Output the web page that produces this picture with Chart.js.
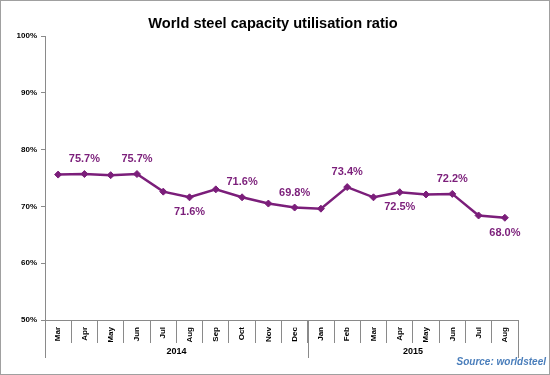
<!DOCTYPE html>
<html>
<head>
<meta charset="utf-8">
<script src="https://cdn.jsdelivr.net/npm/chart.js@4.4.0/dist/chart.umd.min.js"></script>
<style>
  html, body { margin: 0; padding: 0; background: #fff; }
</style>
</head>
<body>
<canvas id="chart" width="550" height="375"></canvas>
<script>
// data
const months = ["Mar", "Apr", "May", "Jun", "Jul", "Aug", "Sep", "Oct", "Nov", "Dec",
                "Jan", "Feb", "Mar", "Apr", "May", "Jun", "Jul", "Aug"];
const years = ["2014", "2015"];
const monthsPerYear = [10, 8];
const ratio = [75.6, 75.7, 75.5, 75.7, 72.6, 71.6, 73.0, 71.6, 70.5, 69.8,
               69.6, 73.4, 71.6, 72.5, 72.1, 72.2, 68.4, 68.0];
// which points carry a value label, and whether it sits under the point
const labelledIdx = [1, 3, 5, 7, 9, 11, 13, 15, 17];
const labelBelow = [false, false, true, false, false, false, true, false, true];

const chartTitle = "World steel capacity utilisation ratio";
const sourceNote = "Source: worldsteel";

const purple = "#7b1e7a";
const axisGrey = "#8a8a8a";

// value labels, year row, title, source and frame
const decor = {
  id: "decor",
  afterDraw(chart) {
    const ctx = chart.ctx;
    const xs = chart.scales.x;
    const area = chart.chartArea;
    const meta = chart.getDatasetMeta(0);
    ctx.save();

    ctx.font = "bold 11px Arial";
    ctx.fillStyle = purple;
    ctx.textAlign = "center";
    ctx.textBaseline = "middle";
    labelledIdx.forEach((i, k) => {
      const p = meta.data[i];
      const dy = labelBelow[k] ? 15 : -15;
      ctx.fillText(ratio[i].toFixed(1) + "%", p.x, p.y + dy);
    });

    // year grouping under the month labels
    const half = (xs.getPixelForValue(1) - xs.getPixelForValue(0)) / 2;
    const yEnd = area.bottom + 38;
    ctx.strokeStyle = axisGrey;
    ctx.lineWidth = 1;
    ctx.beginPath();
    const lx = Math.round(area.left) + 0.5;
    ctx.moveTo(lx, area.bottom);
    ctx.lineTo(lx, yEnd);
    ctx.font = "bold 9px Arial";
    ctx.fillStyle = "#000";
    let start = 0;
    years.forEach((yr, k) => {
      const end = start + monthsPerYear[k] - 1;
      const x0 = xs.getPixelForValue(start) - half;
      const x1 = xs.getPixelForValue(end) + half;
      const bx = Math.round(x1) + 0.5;
      ctx.moveTo(bx, area.bottom);
      ctx.lineTo(bx, yEnd);
      ctx.fillText(yr, (x0 + x1) / 2, area.bottom + 32);
      start = end + 1;
    });
    ctx.stroke();

    ctx.font = "bold 14.6px Arial";
    ctx.fillStyle = "#000";
    ctx.fillText(chartTitle, 273, 24);

    ctx.font = "italic bold 10px Arial";
    ctx.fillStyle = "#4a7ebb";
    ctx.textAlign = "right";
    ctx.fillText(sourceNote, 546, 362);

    ctx.strokeStyle = "#a0a0a0";
    ctx.strokeRect(0.5, 0.5, chart.width - 1, chart.height - 1);
    ctx.restore();
  }
};

new Chart(document.getElementById("chart"), {
  type: "line",
  data: {
    labels: months,
    datasets: [{
      data: ratio,
      borderColor: purple,
      backgroundColor: purple,
      borderWidth: 2.5,
      pointStyle: "rectRot",
      pointRadius: 3.5,
      pointBorderWidth: 1,
      tension: 0,
    }],
  },
  options: {
    responsive: false,
    animation: false,
    devicePixelRatio: 1,
    layout: { padding: { top: 36, right: 32, left: 0, bottom: 0 } },
    plugins: {
      legend: { display: false },
      tooltip: { enabled: false },
      title: { display: false },
    },
    scales: {
      x: {
        offset: true,
        grid: { offset: true, drawOnChartArea: false, tickLength: 23, color: axisGrey },
        border: { color: axisGrey },
        ticks: {
          autoSkip: false,
          minRotation: 90,
          maxRotation: 90,
          padding: -16,
          color: "#000",
          font: { family: "Arial", size: 8, weight: "bold" },
        },
        afterFit(s) { s.height = 55; },
      },
      y: {
        min: 50,
        max: 100,
        grid: { drawOnChartArea: false, tickLength: 4, color: axisGrey },
        border: { color: axisGrey },
        ticks: {
          stepSize: 10,
          padding: 4,
          color: "#000",
          font: { family: "Arial", size: 8, weight: "bold" },
          callback: (v) => v + "%",
        },
        afterFit(s) { s.width = 45; },
      },
    },
  },
  plugins: [decor],
});
</script>
</body>
</html>
